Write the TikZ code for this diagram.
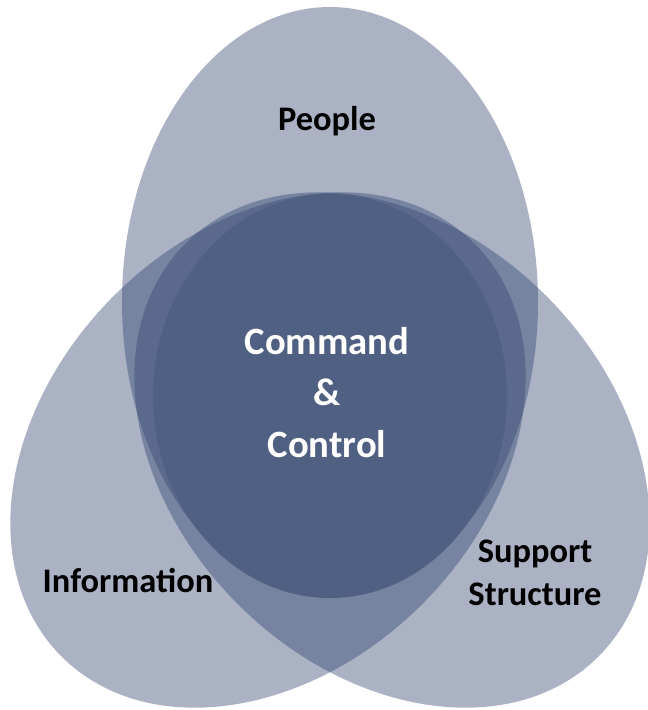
\documentclass[tikz,border=0pt]{standalone}
\usepackage{fontspec}
\newfontfamily\vennfont{Carlito}
\definecolor{venn}{RGB}{48,67,111}
\definecolor{vennCore}{RGB}{80,96,130}
\tikzset{
  petal/.style={fill=venn, fill opacity=0.41},
  outer label/.style={font=\vennfont\bfseries\fontsize{24.5}{30}\selectfont, text=black, align=center, inner sep=0pt, anchor=base},
  core label/.style={font=\vennfont\bfseries\fontsize{27.5}{36.3}\selectfont, text=white, align=center, inner sep=0pt, anchor=base}
}
\begin{document}
\begin{tikzpicture}[x=0.025cm,y=-0.025cm]
\useasboundingbox (0,0) rectangle (647,710);
% three petals
\fill[petal,rotate around={45:(268,450)}] (268,450) ellipse [x radius=292,y radius=218];
\fill[petal,rotate around={-45:(392,450)}] (392,450) ellipse [x radius=292,y radius=218];
\fill[petal] (330,302) ellipse [x radius=208,y radius=295];
% centre
\fill[vennCore] (330,396) ellipse [x radius=177,y radius=202];

% base = last line
\node[outer label] (people) at (327,130) {People};
\node[outer label] (info) at (128,592) {Information};
\node[outer label] (support) at (535,605) {Support\\Structure};
\node[core label] (cc) at (327,457) {Command\\\&\\Control};
\end{tikzpicture}
\end{document}
